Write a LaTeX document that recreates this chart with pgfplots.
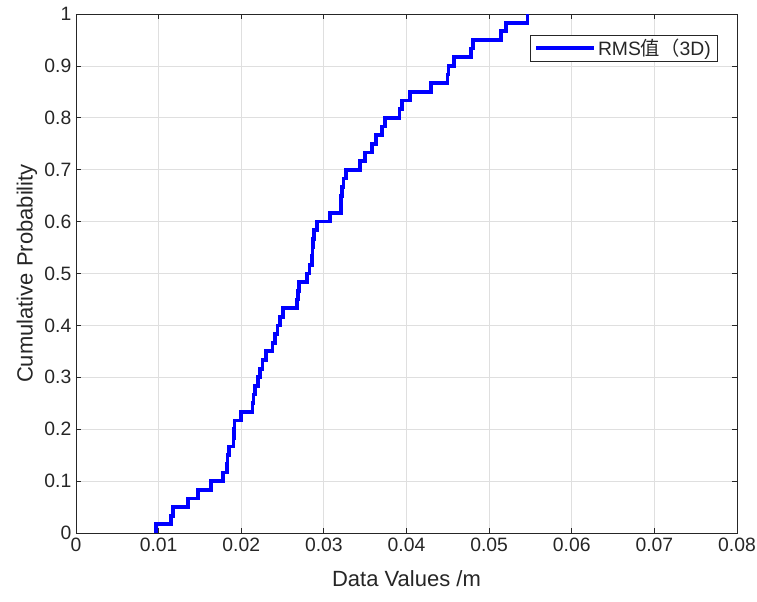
\documentclass[border=0pt]{standalone}
\usepackage{pgfplots}
\pgfplotsset{compat=1.18}
\usepackage{fontspec}
\setmainfont{Liberation Sans}
\newfontfamily\cjk{Noto Sans CJK SC}
\definecolor{axgray}{RGB}{38,38,38}
\definecolor{gridgray}{RGB}{223,223,223}
\begin{document}
\begin{tikzpicture}
\begin{axis}[
  at={(0,0)}, anchor=south west,
  scale only axis, width=495.75pt, height=389.25pt,
  xmin=0, xmax=0.08, ymin=0, ymax=1,
  scaled x ticks=false, scaled y ticks=false,
  xtick={0,0.01,0.02,0.03,0.04,0.05,0.06,0.07,0.08},
  xticklabels={0,0.01,0.02,0.03,0.04,0.05,0.06,0.07,0.08},
  ytick={0,0.1,0.2,0.3,0.4,0.5,0.6,0.7,0.8,0.9,1},
  yticklabels={0,0.1,0.2,0.3,0.4,0.5,0.6,0.7,0.8,0.9,1},
  /pgf/number format/assume math mode=true,
  grid=major,
  major grid style={gridgray, line width=0.6pt},
  axis line style={axgray, line width=0.6pt},
  tick style={axgray, line width=0.6pt},
  major tick length=4pt,
  tick align=inside,
  ticklabel style={font=\fontsize{14.5}{16}\selectfont, text=axgray},
  xlabel={Data Values /m},
  ylabel={Cumulative Probability},
  x label style={at={(axis description cs:0.5,-0.0886)}, anchor=center, font=\fontsize{16.5}{19}\selectfont, text=axgray},
  y label style={at={(axis description cs:-0.0741,0.5)}, anchor=center, rotate=0, font=\fontsize{16.5}{19}\selectfont, text=axgray},
  legend style={at={(axis description cs:0.971,0.96)}, anchor=north east,
    draw=axgray, line width=0.5pt, fill=white,
    font=\fontsize{14.5}{16}\selectfont, text=axgray,
    inner xsep=3pt, inner ysep=1pt},
  legend image code/.code={\draw[#1] (0pt,0pt) -- (43pt,0pt);},
]
\addplot[const plot, color={rgb,255:red,0;green,0;blue,255}, line width=2.8pt] coordinates {
(0.00969,0)
(0.00969,0.0167)
(0.01146,0.0333)
(0.01178,0.05)
(0.01352,0.0667)
(0.01481,0.0833)
(0.01634,0.1)
(0.01783,0.1167)
(0.01832,0.1333)
(0.01834,0.15)
(0.01856,0.1667)
(0.01905,0.1833)
(0.01913,0.2)
(0.01919,0.2167)
(0.01994,0.2333)
(0.02135,0.25)
(0.02147,0.2667)
(0.02167,0.2833)
(0.02207,0.3)
(0.02228,0.3167)
(0.02256,0.3333)
(0.02296,0.35)
(0.02377,0.3667)
(0.02409,0.3833)
(0.02438,0.4)
(0.0247,0.4167)
(0.02502,0.4333)
(0.02672,0.45)
(0.02684,0.4667)
(0.02703,0.4833)
(0.0280,0.5)
(0.02825,0.5167)
(0.02853,0.5333)
(0.02861,0.55)
(0.02869,0.5667)
(0.02877,0.5833)
(0.02914,0.6)
(0.03075,0.6167)
(0.03204,0.6333)
(0.03208,0.65)
(0.03216,0.6667)
(0.03236,0.6833)
(0.03269,0.7)
(0.0344,0.7167)
(0.0350,0.7333)
(0.0358,0.75)
(0.03628,0.7667)
(0.03701,0.7833)
(0.03741,0.8)
(0.03915,0.8167)
(0.03943,0.8333)
(0.04044,0.85)
(0.04294,0.8667)
(0.04496,0.8833)
(0.04508,0.9)
(0.04576,0.9167)
(0.04778,0.9333)
(0.04802,0.95)
(0.05141,0.9667)
(0.05202,0.9833)
(0.05464,1)
};
\addlegendentry{RMS{\cjk 值（}3D)}
\end{axis}
\pgfresetboundingbox
\path[use as bounding box] (-57pt,-51pt) rectangle (510.75pt,399.75pt);
\end{tikzpicture}
\end{document}
